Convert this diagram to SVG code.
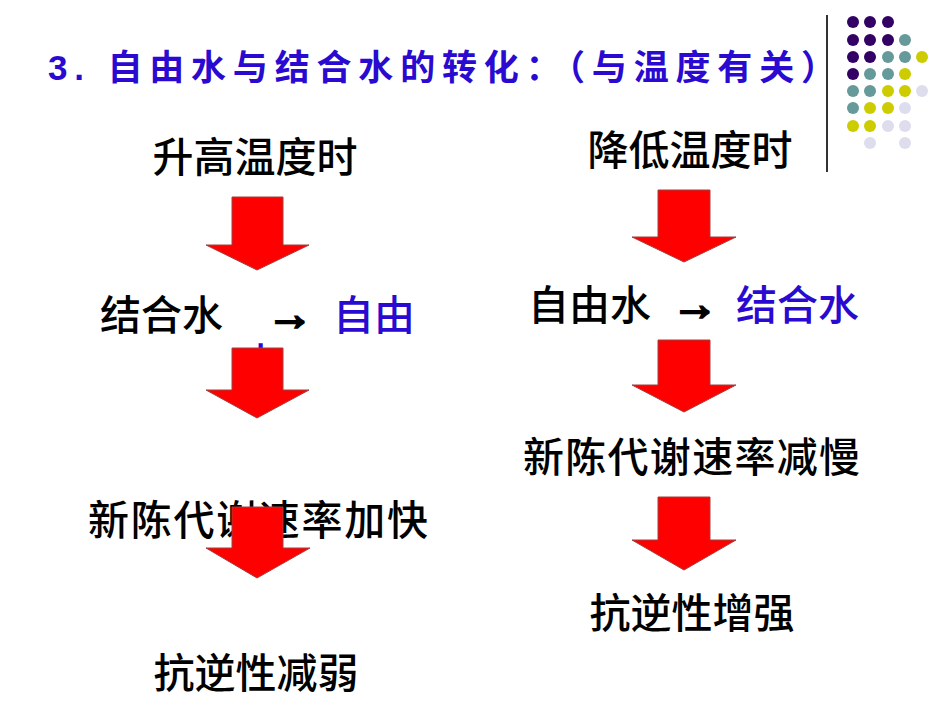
<svg xmlns="http://www.w3.org/2000/svg" width="950" height="713" viewBox="0 0 950 713">
<style>
text{font-family:"Liberation Sans","Noto Sans CJK SC",sans-serif;}
.t{font-size:41px;fill:#000;font-weight:500}
.b{fill:#2a0ad0}
.ar{fill:#ff0000;stroke:#a04040;stroke-width:1}
.ga{font-size:46px;font-weight:bold;stroke:#000;stroke-width:2.5}
.P{fill:#330066}.T{fill:#669999}.Y{fill:#cccc00}.L{fill:#ddddee}
</style>
<rect width="950" height="713" fill="#fff"/>
<line x1="827" y1="15" x2="827" y2="172" stroke="#333" stroke-width="2"/>
<g id="dots">
<circle class="P" cx="853" cy="22" r="6"/><circle class="P" cx="870" cy="22" r="6"/><circle class="P" cx="888" cy="22" r="6"/>
<circle class="P" cx="853" cy="40" r="6"/><circle class="P" cx="870" cy="40" r="6"/><circle class="P" cx="888" cy="40" r="6"/><circle class="T" cx="905" cy="40" r="6"/>
<circle class="P" cx="853" cy="57" r="6"/><circle class="P" cx="870" cy="57" r="6"/><circle class="T" cx="888" cy="57" r="6"/><circle class="T" cx="905" cy="57" r="6"/><circle class="Y" cx="922" cy="57" r="6"/>
<circle class="P" cx="853" cy="74" r="6"/><circle class="T" cx="870" cy="74" r="6"/><circle class="T" cx="888" cy="74" r="6"/><circle class="Y" cx="905" cy="74" r="6"/>
<circle class="T" cx="853" cy="91" r="6"/><circle class="T" cx="870" cy="91" r="6"/><circle class="Y" cx="888" cy="91" r="6"/><circle class="Y" cx="905" cy="91" r="6"/><circle class="L" cx="922" cy="91" r="6"/>
<circle class="T" cx="853" cy="108" r="6"/><circle class="Y" cx="870" cy="108" r="6"/><circle class="Y" cx="888" cy="108" r="6"/><circle class="L" cx="905" cy="108" r="6"/>
<circle class="Y" cx="853" cy="126" r="6"/><circle class="Y" cx="870" cy="126" r="6"/><circle class="L" cx="888" cy="126" r="6"/><circle class="L" cx="905" cy="126" r="6"/>
<circle class="L" cx="870" cy="143" r="6"/><circle class="L" cx="905" cy="143" r="6"/>
</g>
<g id="title"><text x="48" y="80" font-size="35" font-weight="bold" class="b" textLength="788" lengthAdjust="spacing">3. 自由水与结合水的转化：（与温度有关）</text></g>
<g id="left">
<text class="t" x="255" y="172" text-anchor="middle">升高温度时</text>
<text class="t" x="100" y="330">结合水</text>
<text class="ga" x="290" y="330" text-anchor="middle">→</text>
<text class="t b" x="333" y="330">自由</text>
<text class="t b" x="240" y="378">水</text>
<text class="t" x="88" y="535" textLength="340">新陈代谢速率加快</text>
<text class="t" x="256" y="688" text-anchor="middle">抗逆性减弱</text>
</g>
<g id="right">
<text class="t" x="690" y="165" text-anchor="middle">降低温度时</text>
<text class="t" x="528" y="320">自由水</text>
<text class="ga" x="695" y="320" text-anchor="middle">→</text>
<text class="t b" x="736" y="320">结合水</text>
<text class="t" x="523" y="472" textLength="337">新陈代谢速率减慢</text>
<text class="t" x="692" y="628" text-anchor="middle">抗逆性增强</text>
</g>
<g id="connectors">
<polygon class="ar" points="232,197 283,197 283,245 309,245 257,270 206,245 232,245"/>
<polygon class="ar" points="232,348 283,348 283,390 309,390 257,418 206,390 232,390"/>
<polygon class="ar" points="232,507 283,507 283,548 310,548 257,578 206,548 232,548"/>
<polygon class="ar" points="658,190 710,190 710,237 736,237 684,262 632,237 658,237"/>
<polygon class="ar" points="658,340 710,340 710,385 736,385 684,412 632,385 658,385"/>
<polygon class="ar" points="658,497 710,497 710,540 736,540 684,570 632,540 658,540"/>
</g>
</svg>
